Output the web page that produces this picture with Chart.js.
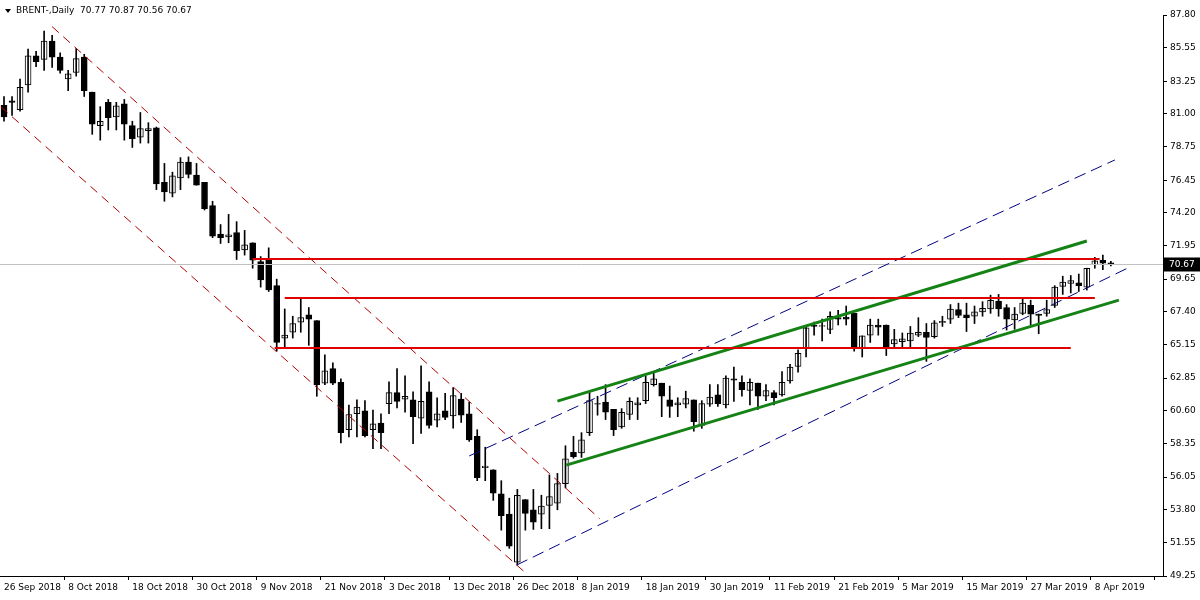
<!DOCTYPE html>
<html><head><meta charset="utf-8">
<script src="https://cdn.jsdelivr.net/npm/chart.js@4/dist/chart.umd.min.js"></script>
<style>html,body{margin:0;padding:0;background:#fff}canvas{display:block}</style>
</head><body>
<canvas id="c" width="1200" height="600"></canvas>
<script>
const opens=[81.6,81.9,81.3,83.0,85.0,84.75,86.0,84.9,83.4,83.85,84.9,82.5,80.2,81.8,80.8,81.7,80.2,79.4,79.85,80.05,76.3,75.55,76.6,77.7,76.8,76.3,
74.7,72.75,72.55,72.85,71.65,72.15,70.85,71.0,69.2,65.6,66.0,66.7,67.2,66.8,62.5,63.5,62.55,59.3,60.4,60.6,59.3,59.75,61.1,61.85,61.4,
61.35,60.1,61.9,59.95,60.6,60.25,61.4,60.4,58.85,56.7,56.55,54.9,53.5,50.2,54.5,53.8,53.5,54.1,54.25,55.6,57.75,57.7,59.1,
61.1,61.2,60.7,59.5,60.35,61.0,61.3,62.4,62.5,61.35,61.0,61.05,61.35,59.6,61.05,61.7,61.0,62.8,62.55,62.0,62.5,61.6,61.85,61.7,62.65,63.65,
64.9,66.5,66.4,66.2,67.0,67.05,67.3,64.9,65.8,66.5,66.5,65.2,65.35,65.4,65.8,66.0,65.7,66.65,66.9,67.55,67.2,67.1,67.4,67.6,68.15,
67.7,66.85,67.3,67.85,67.25,67.3,67.85,69.15,69.35,69.4,69.1,70.65,70.95,70.77];
const highs=[82.2,82.2,83.4,85.45,85.3,86.7,86.4,85.2,84.0,85.5,85.1,82.5,81.5,82.0,81.8,82.0,80.5,81.1,80.4,80.1,77.6,77.0,78.0,78.05,77.6,76.3,
75.0,73.4,74.1,73.6,73.0,72.15,71.2,71.8,69.65,67.6,67.1,68.3,67.7,66.8,64.45,63.9,62.8,61.0,61.35,61.3,60.65,60.4,62.6,63.5,63.0,
61.9,63.7,62.6,61.5,61.8,62.2,61.8,61.2,59.3,58.1,56.55,55.8,54.6,55.2,54.5,55.2,54.8,56.2,56.3,58.2,58.85,59.1,61.9,
61.6,62.4,60.7,60.75,61.5,61.5,63.0,63.2,62.5,62.3,61.5,61.95,61.35,61.3,62.4,62.4,63.0,63.6,63.0,62.8,62.5,62.4,62.0,63.3,63.8,64.8,
66.4,66.7,66.9,67.4,67.5,67.8,67.3,65.75,66.9,66.9,66.5,66.2,65.95,66.4,67.0,66.6,66.8,67.1,67.9,68.0,68.0,67.8,68.1,68.55,68.6,
67.9,67.7,68.3,68.2,67.25,68.2,69.2,69.85,69.9,70.0,70.4,71.15,71.3,70.87];
const lows=[80.5,80.9,81.2,82.5,84.25,84.0,84.2,83.8,82.6,83.6,82.2,79.6,79.2,79.9,79.9,79.2,78.7,79.0,79.0,75.8,75.0,75.3,75.8,76.6,76.1,74.4,
72.5,72.1,72.15,71.0,71.3,70.4,69.1,68.8,64.7,65.0,65.6,66.0,65.1,61.6,62.4,62.4,58.4,58.8,58.8,58.8,58.0,58.0,60.4,60.8,60.5,
58.35,59.05,59.4,59.5,60.0,59.4,59.8,58.5,55.8,55.8,54.45,52.4,51.15,50.0,52.4,52.45,52.5,52.5,53.8,55.3,57.35,57.4,58.9,
60.3,60.0,58.9,59.4,60.0,60.0,61.1,62.3,60.2,60.15,60.2,60.8,59.2,59.4,60.9,60.9,60.8,61.25,61.6,61.0,60.7,61.3,61.0,61.6,62.5,63.25,
64.3,65.8,65.4,65.9,66.5,66.5,64.7,64.3,65.3,65.8,64.4,64.9,64.95,64.9,65.7,64.0,65.6,66.4,66.6,67.0,66.05,66.6,67.1,67.3,67.1,
66.15,66.2,67.2,66.5,65.9,67.1,67.7,68.6,68.7,68.8,68.9,70.4,70.3,70.56];
const closes=[80.8,81.8,82.83,85.0,84.6,86.0,84.9,84.0,83.75,84.8,82.6,80.3,80.5,80.75,81.55,80.3,79.3,80.0,80.0,76.2,75.65,76.75,77.7,76.85,76.1,74.5,
72.6,72.5,72.7,71.6,72.0,70.95,69.6,68.9,65.3,65.8,66.6,67.0,66.9,62.4,63.35,62.5,59.1,60.35,60.85,58.9,59.7,59.1,61.85,61.25,61.6,
60.2,61.25,59.6,60.4,60.15,61.65,60.3,58.6,56.0,56.8,54.95,53.4,51.3,54.8,53.55,52.95,54.05,54.7,55.6,57.3,57.45,58.6,61.3,
61.05,60.5,59.3,60.5,61.25,61.15,62.55,62.8,61.6,60.9,61.15,61.45,59.85,61.1,61.55,61.1,62.85,62.7,62.05,62.55,61.6,62.0,61.5,62.55,63.6,64.55,
66.3,66.4,66.45,67.1,66.9,66.9,64.9,65.75,66.5,66.35,64.9,65.5,65.55,65.95,66.0,65.65,66.65,66.75,67.6,67.15,67.0,67.4,67.65,68.2,67.6,
66.9,67.25,68.0,67.25,67.15,67.55,69.1,69.45,69.55,69.2,70.4,70.9,70.75,70.67];
const tickDates=['26 Sep 2018','8 Oct 2018','18 Oct 2018','30 Oct 2018','9 Nov 2018','21 Nov 2018','3 Dec 2018','13 Dec 2018','26 Dec 2018','8 Jan 2019','18 Jan 2019','30 Jan 2019','11 Feb 2019','21 Feb 2019','5 Mar 2019','15 Mar 2019','27 Mar 2019','8 Apr 2019'];
const yTicks=[49.25,51.55,53.80,56.05,58.35,60.60,62.85,65.15,67.40,69.65,71.95,74.20,76.45,78.75,81.00,83.25,85.55,87.80];
const lastPrice=70.67;
// trend lines: [x1(index), y1(price), x2, y2]
const redChannel=[[6,87.0,74.25,53.2],[-0.4,81.5,64.75,49.6]];
const blueChannel=[[58,57.5,138.5,77.84],[63.9,50.0,140.1,70.41]];
const greenChannel=[[69,61.27,135,72.27],[70.1,56.87,139,68.21]];
const levels=[[31,136.6,71.03],[35,136,68.35],[33.75,133,64.91]];

const N=145;
const labels=[];for(let i=0;i<N;i++)labels.push(String(i));
const wick=opens.map((o,i)=>[lows[i],highs[i]]);
const body=opens.map((o,i)=>{let c=closes[i];if(Math.abs(c-o)<0.05)c=o+(c>=o?0.05:-0.05);return [o,c];});
const bodyBg=opens.map((o,i)=>closes[i]>=o?'#ffffff':'#000000');

const overlay={id:'overlay',
 afterDatasetsDraw(ch){
  const c=ch.ctx,x=ch.scales.x,y=ch.scales.y,a=ch.chartArea;
  c.save();
  c.beginPath();c.rect(a.left,a.top,a.right-a.left,a.bottom-a.top);c.clip();
  c.strokeStyle='#c0c0c0';c.lineWidth=1;c.beginPath();
  const py=Math.round(y.getPixelForValue(lastPrice))+0.5;c.moveTo(a.left,py);c.lineTo(a.right,py);c.stroke();
  const seg=(l,col,w,dash)=>{c.strokeStyle=col;c.lineWidth=w;c.setLineDash(dash);c.beginPath();
    c.moveTo(x.getPixelForValue(l[0]),y.getPixelForValue(l[1]));c.lineTo(x.getPixelForValue(l[2]),y.getPixelForValue(l[3]));c.stroke();};
  redChannel.forEach(l=>seg(l,'#b00000',1,[9,6]));
  blueChannel.forEach(l=>seg(l,'#000080',1,[12,6]));
  greenChannel.forEach(l=>seg(l,'#148214',3,[]));
  levels.forEach(l=>seg([l[0],l[2],l[1],l[2]],'#e00000',2,[]));
  c.restore();
  c.save();
  c.fillStyle='#000';c.fillRect(a.right+1,py-7,36,14);
  c.fillStyle='#fff';c.font='9px "DejaVu Sans"';c.textBaseline='middle';c.fillText(lastPrice.toFixed(2),a.right+6,py);
  c.fillStyle='#000';c.beginPath();c.moveTo(5,9);c.lineTo(11,9);c.lineTo(8,13);c.closePath();c.fill();
  c.font='9px "DejaVu Sans"';c.textBaseline='middle';
  c.fillText('BRENT-,Daily  '+[opens[138],highs[138],lows[138],closes[138]].map(v=>v.toFixed(2)).join(' '),16,11);
  c.restore();
 }};

new Chart(document.getElementById('c'),{
 type:'bar',
 data:{labels,datasets:[
  {data:wick,backgroundColor:'#000',barThickness:1,borderWidth:0},
  {data:body,backgroundColor:bodyBg,borderColor:'#000',borderWidth:1,borderSkipped:false,barThickness:6}
 ]},
 options:{responsive:false,animation:false,devicePixelRatio:1,
  layout:{padding:{top:15,left:0,right:0,bottom:0}},
  datasets:{bar:{grouped:false}},
  plugins:{legend:{display:false},tooltip:{enabled:false}},
  scales:{
   x:{offset:true,grid:{drawOnChartArea:false,tickLength:4,color:ctx=>ctx.index%8===0?'#000':'rgba(0,0,0,0)'},
      border:{display:true,color:'#000'},
      afterFit(s){s.height=24;},
      ticks:{autoSkip:false,maxRotation:0,minRotation:0,align:'start',color:'#000',font:{family:'DejaVu Sans',size:9},padding:2,
        callback:(v,i)=>i%8===0&&tickDates[i/8]?tickDates[i/8]:''}},
   y:{position:'right',min:49.25,max:87.80,
      afterBuildTicks(s){s.ticks=yTicks.map(v=>({value:v}));},
      afterFit(s){s.width=37;},
      grid:{drawOnChartArea:false,tickLength:4,color:'#000'},border:{display:true,color:'#000'},
      ticks:{color:'#000',font:{family:'DejaVu Sans',size:9},padding:3,callback:v=>Number(v).toFixed(2)}}
  }},
 plugins:[overlay]
});
</script>
</body></html>
